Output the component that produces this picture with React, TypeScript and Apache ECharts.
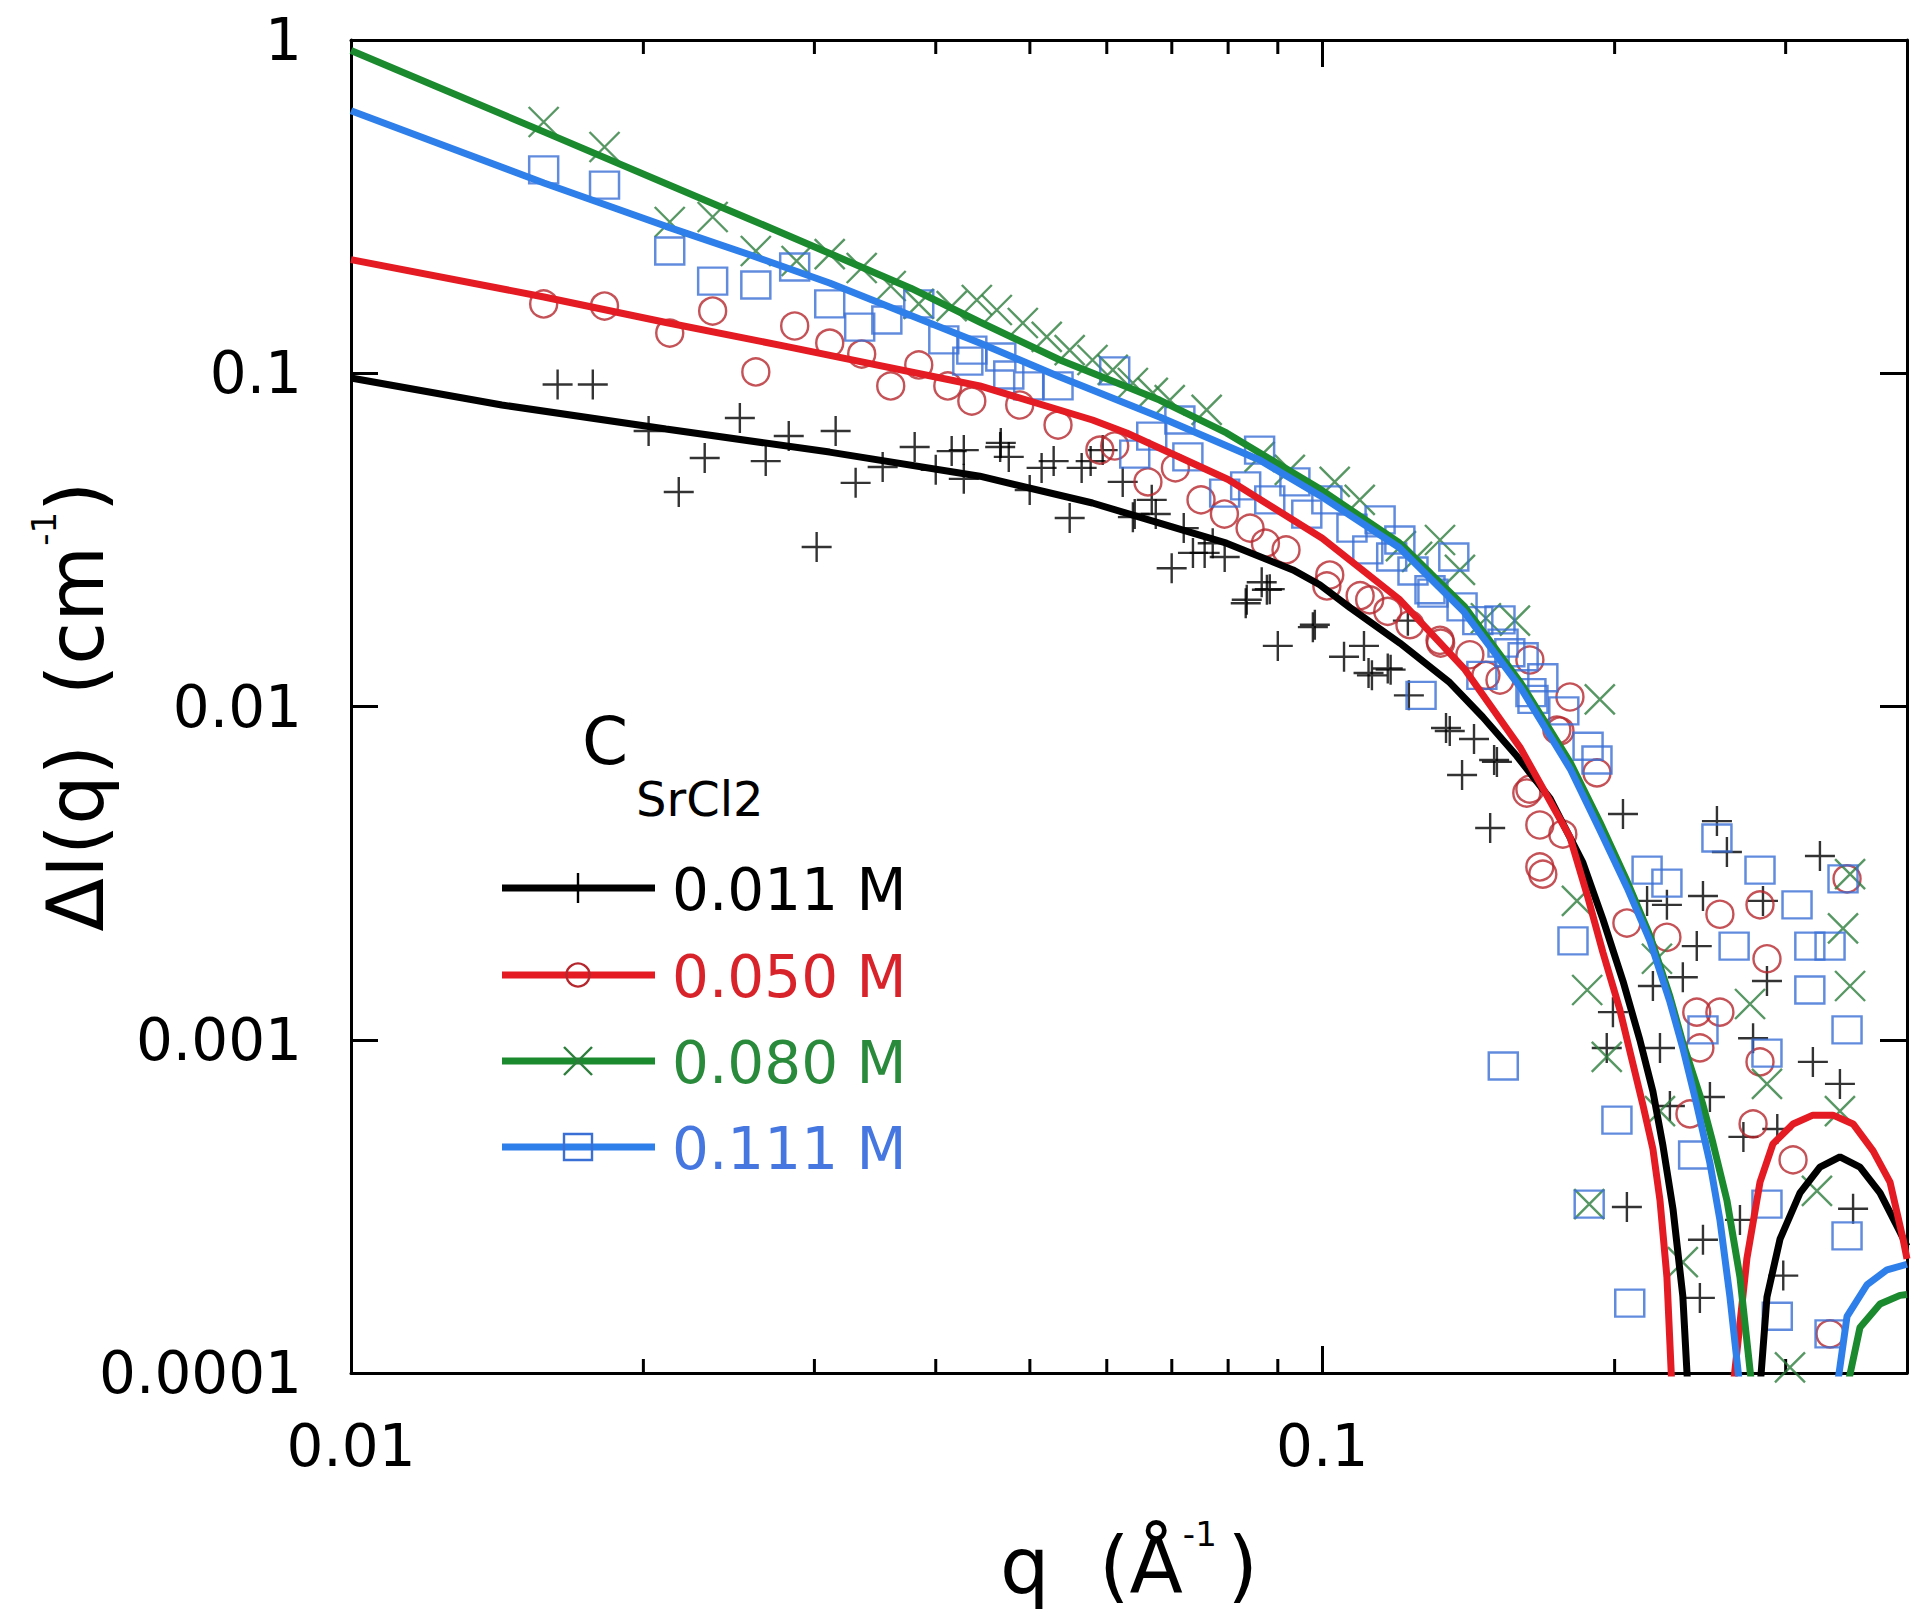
import React, { useEffect, useRef } from "react";
import * as echarts from "echarts";

const FONT = "DejaVu Sans";

// axis ranges and tick values
const xRange = [0.01, 0.4];
const yRange = [0.0001, 1];
const xLabelValues = [0.01, 0.1];
const xLabelTexts = ["0.01", "0.1"];
const xMinorTicks = [0.02, 0.03, 0.04, 0.05, 0.06, 0.07, 0.08, 0.09, 0.2, 0.3];
const yLabelValues = [0.0001, 0.001, 0.01, 0.1, 1];
const yLabelTexts = ["0.0001", "0.001", "0.01", "0.1", "1"];

// series
const seriesNames = ["0.011 M", "0.050 M", "0.080 M", "0.111 M"];
const lineColors = ["#000000", "#e41b23", "#1b8a2f", "#2f7fea"];
const markerColors = ["#000000", "#b5272d", "#2d7d3c", "#3a6fd6"];
const textColors = ["#000000", "#d9232b", "#2a8a3b", "#4677e0"];

// fitted curves [q, ΔI]
const fit011 = [
  [0.01, 0.0968], [0.0143, 0.0803], [0.0211, 0.068], [0.0311, 0.058], [0.0444, 0.0491],
  [0.058, 0.0408], [0.068, 0.0355], [0.0797, 0.0309], [0.0933, 0.0257], [0.0994, 0.0232],
  [0.1068, 0.0198], [0.1202, 0.0155], [0.1353, 0.0118], [0.1463, 0.0093], [0.1586, 0.0071],
  [0.1716, 0.0053], [0.1855, 0.0034], [0.1945, 0.0023], [0.204, 0.0015], [0.2123, 0.001],
  [0.219, 0.0007], [0.2243, 0.00048], [0.2297, 0.00031], [0.2351, 0.00017], [0.2379, 0.00009],
  [0.259, 0.0000001], [0.2823, 0.00009], [0.287, 0.000169], [0.296, 0.000252], [0.3104, 0.000347],
  [0.3254, 0.000415], [0.3412, 0.000445], [0.3578, 0.000415], [0.3752, 0.000347], [0.3934, 0.000265],
  [0.4, 0.00024],
];
const fit050 = [
  [0.01, 0.2193], [0.0158, 0.1694], [0.0211, 0.1420], [0.0282, 0.1200], [0.0444, 0.0916],
  [0.058, 0.0724], [0.0629, 0.0662], [0.08, 0.048], [0.1, 0.032], [0.12, 0.021],
  [0.14, 0.013], [0.16, 0.0075], [0.1799, 0.00406], [0.1874, 0.00272], [0.1945, 0.00183],
  [0.2025, 0.00123], [0.2088, 0.00085], [0.2138, 0.00064], [0.219, 0.00047], [0.2227, 0.00033],
  [0.2264, 0.000194], [0.2291, 0.00009], [0.2465, 0.0000001], [0.2648, 0.00009], [0.2737, 0.000221],
  [0.2823, 0.000374], [0.2911, 0.000487], [0.3053, 0.000559], [0.32, 0.000594], [0.3356, 0.000594],
  [0.352, 0.000559], [0.3691, 0.000464], [0.3842, 0.000374], [0.3963, 0.000252], [0.4, 0.00022],
];
const fit080 = [
  [0.01, 0.93], [0.0158, 0.53], [0.0256, 0.292], [0.0377, 0.1800], [0.0444, 0.1425],
  [0.0537, 0.1096], [0.068, 0.0831], [0.0797, 0.0662], [0.0994, 0.045], [0.12, 0.031],
  [0.14, 0.02], [0.16, 0.0118], [0.18, 0.0068], [0.1931, 0.0045], [0.2059, 0.003],
  [0.2175, 0.00205], [0.228, 0.00135], [0.2351, 0.00098], [0.2465, 0.00064], [0.2525, 0.00049],
  [0.261, 0.00033], [0.2692, 0.000194], [0.277, 0.00009], [0.312, 0.0000001], [0.347, 0.00009],
  [0.3578, 0.000137], [0.3752, 0.000161], [0.3934, 0.000171], [0.4, 0.000172],
];
const fit111 = [
  [0.01, 0.613], [0.0158, 0.3724], [0.0211, 0.276], [0.0256, 0.2279], [0.0311, 0.1866],
  [0.0444, 0.1232], [0.0537, 0.0974], [0.068, 0.0739], [0.0862, 0.0549], [0.0994, 0.043],
  [0.12, 0.03], [0.14, 0.0192], [0.16, 0.0114], [0.18, 0.0065], [0.1931, 0.00426],
  [0.2059, 0.00287], [0.2175, 0.00198], [0.228, 0.0013], [0.2351, 0.000945], [0.243, 0.000637],
  [0.2507, 0.000427], [0.2567, 0.000288], [0.2629, 0.000169], [0.2692, 0.00009], [0.302, 0.0000001],
  [0.3388, 0.00009], [0.347, 0.000148], [0.3638, 0.000184], [0.3815, 0.000204], [0.4, 0.000212],
];

// measured points [q, ΔI]
const pts011 = [
  [0.01632, 0.0925], [0.01774, 0.0925], [0.02025, 0.0671], [0.02175, 0.044], [0.02313, 0.0557],
  [0.02514, 0.0734], [0.02673, 0.0545], [0.02823, 0.0648], [0.03016, 0.0301], [0.03155, 0.0671],
  [0.03308, 0.0469], [0.03527, 0.0523], [0.03805, 0.0601], [0.04, 0.0513], [0.04154, 0.0584],
  [0.04275, 0.0482], [0.04275, 0.0588], [0.0466, 0.0601], [0.04667, 0.0618], [0.04756, 0.0561],
  [0.04998, 0.0446], [0.05141, 0.052], [0.0529, 0.0545], [0.05495, 0.0368], [0.05653, 0.052],
  [0.05775, 0.0545], [0.05942, 0.0588], [0.06231, 0.0472], [0.06383, 0.037], [0.06411, 0.0378],
  [0.06675, 0.0417], [0.06739, 0.0378], [0.06998, 0.026], [0.07201, 0.0343], [0.0736, 0.0289],
  [0.07567, 0.0289], [0.07713, 0.0309], [0.07935, 0.0281], [0.08341, 0.0204], [0.08361, 0.0209],
  [0.08663, 0.0236], [0.0877, 0.0224], [0.0883, 0.0225], [0.09, 0.0152], [0.0978, 0.0173],
  [0.09826, 0.0176], [0.1053, 0.0141], [0.1104, 0.0152], [0.1116, 0.0126], [0.1125, 0.0124],
  [0.1168, 0.013], [0.1176, 0.0129], [0.1225, 0.0181], [0.1228, 0.0108], [0.1341, 0.00862],
  [0.1353, 0.00844], [0.1393, 0.00623], [0.1433, 0.00799], [0.1489, 0.00432], [0.1503, 0.00691],
  [0.1513, 0.00682], [0.1992, 0.00121], [0.204, 0.00476], [0.2549, 0.00453], [0.261, 0.00366],
  [0.3254, 0.00356], [0.2466, 0.0027], [0.216, 0.00261], [0.2264, 0.00254], [0.2843, 0.00261],
  [0.243, 0.00191], [0.287, 0.0015], [0.219, 0.00145], [0.2351, 0.00154], [0.1963, 0.000945],
  [0.2227, 0.000945], [0.2777, 0.00101], [0.32, 0.000858], [0.3412, 0.000737], [0.228, 0.000633],
  [0.2507, 0.000673], [0.2714, 0.000511], [0.2941, 0.00054], [0.2059, 0.000315], [0.352, 0.000311],
  [0.2692, 0.000288], [0.2466, 0.000251], [0.2983, 0.000196], [0.2448, 0.000168],
];
const pts050 = [
  [0.01579, 0.1614], [0.01824, 0.1591], [0.02129, 0.132], [0.02357, 0.1537], [0.02611, 0.1009],
  [0.02863, 0.1386], [0.03111, 0.1232], [0.03356, 0.1142], [0.03595, 0.0916], [0.03842, 0.1059],
  [0.04116, 0.0916], [0.04357, 0.0825], [0.04881, 0.0803], [0.05345, 0.0699], [0.05902, 0.0588],
  [0.06114, 0.0605], [0.06615, 0.0472], [0.0706, 0.052], [0.07502, 0.0417], [0.0793, 0.0378],
  [0.08427, 0.0343], [0.0874, 0.0309], [0.09177, 0.0295], [0.1011, 0.023], [0.1018, 0.0248],
  [0.1094, 0.0215], [0.1119, 0.0209], [0.1168, 0.0193], [0.1231, 0.0176], [0.1322, 0.0158],
  [0.1324, 0.0155], [0.1419, 0.0143], [0.1474, 0.0124], [0.1524, 0.012], [0.1636, 0.01379],
  [0.1799, 0.01068], [0.1744, 0.0085], [0.1918, 0.00632], [0.1675, 0.0033], [0.1624, 0.0055],
  [0.1757, 0.00844], [0.1636, 0.00565], [0.1675, 0.00441], [0.1687, 0.00314], [0.1769, 0.00414],
  [0.2059, 0.00224], [0.2264, 0.00203], [0.2567, 0.00238], [0.2823, 0.00254], [0.287, 0.00175],
  [0.243, 0.00121], [0.2567, 0.00121], [0.2448, 0.000945], [0.2823, 0.000858], [0.2777, 0.000559],
  [0.3053, 0.000436], [0.347, 0.00304], [0.3333, 0.000131], [0.2391, 0.000599],
];
const pts080 = [
  [0.01579, 0.5675], [0.01824, 0.4775], [0.02129, 0.2844], [0.02357, 0.2944], [0.02611, 0.2327],
  [0.02876, 0.2172], [0.03111, 0.2279], [0.03356, 0.2069], [0.03595, 0.1827], [0.03842, 0.1614],
  [0.04154, 0.1591], [0.04409, 0.1659], [0.04623, 0.1548], [0.04917, 0.1415], [0.05204, 0.1285],
  [0.05495, 0.1174], [0.058, 0.1096], [0.06086, 0.1023], [0.06383, 0.0935], [0.06692, 0.0873],
  [0.06966, 0.0831], [0.07603, 0.0776], [0.0862, 0.0561], [0.0926, 0.0513], [0.103, 0.0472],
  [0.1093, 0.0417], [0.1205, 0.0303], [0.1252, 0.0281], [0.1322, 0.0316], [0.1386, 0.0257],
  [0.1474, 0.0184], [0.1579, 0.0181], [0.1931, 0.0105], [0.1829, 0.00261], [0.1874, 0.00141],
  [0.1963, 0.000888], [0.2227, 0.000611], [0.2351, 0.000215], [0.2757, 0.00128], [0.287, 0.000737],
  [0.3031, 0.000104], [0.3495, 0.00145], [0.3495, 0.00314], [0.3412, 0.000611], [0.3231, 0.000352],
  [0.3437, 0.00216], [0.1883, 0.000321], [0.2211, 0.00175],
];
const pts111 = [
  [0.01579, 0.4074], [0.01824, 0.3671], [0.02129, 0.2327], [0.02357, 0.1891], [0.02611, 0.184],
  [0.02863, 0.2084], [0.03111, 0.1614], [0.0334, 0.1376], [0.03562, 0.1445], [0.03842, 0.1614],
  [0.04077, 0.1259], [0.04316, 0.1088], [0.04357, 0.1174], [0.04667, 0.1119], [0.04756, 0.0988],
  [0.04986, 0.0916], [0.05345, 0.0916], [0.06114, 0.1016], [0.06411, 0.0572], [0.06675, 0.0648],
  [0.07135, 0.0724], [0.07272, 0.0561], [0.07935, 0.0437], [0.0834, 0.0459], [0.0862, 0.0588],
  [0.0883, 0.0417], [0.09372, 0.0472], [0.0964, 0.0378], [0.1011, 0.0417], [0.1073, 0.0343],
  [0.1114, 0.0295], [0.1147, 0.0363], [0.1179, 0.0281], [0.1202, 0.0316], [0.124, 0.0255],
  [0.1291, 0.0224], [0.13, 0.0219], [0.1366, 0.0281], [0.1393, 0.0199], [0.1446, 0.0181],
  [0.1264, 0.0108], [0.146, 0.0124], [0.1524, 0.0182], [0.1535, 0.0155], [0.156, 0.0145],
  [0.161, 0.0141], [0.164, 0.011], [0.1648, 0.0105], [0.1687, 0.0122], [0.1773, 0.0097],
  [0.1878, 0.0076], [0.1918, 0.00691], [0.1812, 0.00198], [0.216, 0.00323], [0.2264, 0.00295],
  [0.2549, 0.00403], [0.2823, 0.00323], [0.3082, 0.00254], [0.2655, 0.00191], [0.3177, 0.00191],
  [0.3333, 0.00191], [0.3437, 0.00304], [0.3177, 0.00141], [0.347, 0.00107], [0.1536, 0.000834],
  [0.2466, 0.00107], [0.287, 0.000912], [0.2011, 0.000574], [0.2412, 0.000451], [0.1883, 0.000321],
  [0.287, 0.000321], [0.347, 0.000258], [0.2073, 0.000162], [0.2941, 0.000148], [0.3333, 0.000131],
];

const fits = [fit011, fit050, fit080, fit111];
const points = [pts011, pts050, pts080, pts111];

const plusPath = "path://M0,50L100,50M50,0L50,100";
const crossPath = "path://M0,0L100,100M100,0L0,100";
const symbols = [plusPath, "circle", crossPath, "rect"];
const symbolSizes: any[] = [30, 27, 30, [29, 27]];

const matchLabel = (v: number, vals: number[], texts: string[]) => {
  for (let i = 0; i < vals.length; i++) {
    if (Math.abs(Math.log10(v) - Math.log10(vals[i])) < 1e-6) return texts[i];
  }
  return "";
};

const axisCommon = {
  type: "log",
  logBase: 10,
  axisLine: { show: true, onZero: false, lineStyle: { color: "#000", width: 3 } },
  axisTick: { show: true, inside: true, length: 27, lineStyle: { color: "#000", width: 3 } },
  splitLine: { show: false },
  minorTick: { show: false },
  minorSplitLine: { show: false },
};

const titleRich = {
  b: { fontSize: 78, fontFamily: FONT, color: "#000", verticalAlign: "bottom", lineHeight: 88 },
  s: { fontSize: 34, fontFamily: FONT, color: "#000", verticalAlign: "top", lineHeight: 40 },
};

export default function App() {
  const ref = useRef<HTMLDivElement>(null);
  useEffect(() => {
    if (!ref.current) return;
    const chart = echarts.init(ref.current, undefined, { renderer: "svg" });

    const series: any[] = [];
    for (let i = 0; i < 4; i++) {
      series.push({
        type: "scatter",
        name: seriesNames[i],
        data: points[i],
        symbol: symbols[i],
        symbolSize: symbolSizes[i],
        itemStyle: { color: "rgba(0,0,0,0)", borderColor: markerColors[i], borderWidth: 2.4 },
        silent: true,
      });
      series.push({
        type: "line",
        name: seriesNames[i],
        data: fits[i],
        symbol: "none",
        showSymbol: false,
        clip: true,
        lineStyle: { color: lineColors[i], width: 7 },
        silent: true,
      });
    }
    // minor ticks on top and bottom x axes
    series.push({
      type: "custom",
      silent: true,
      data: xMinorTicks.map((v) => [v, yRange[0]]),
      renderItem: (params: any, api: any) => {
        const q = api.value(0);
        const b = api.coord([q, yRange[0]]);
        const t = api.coord([q, yRange[1]]);
        return {
          type: "group",
          children: [
            { type: "line", shape: { x1: b[0], y1: b[1], x2: b[0], y2: b[1] - 14 }, style: { stroke: "#000", lineWidth: 3 } },
            { type: "line", shape: { x1: t[0], y1: t[1], x2: t[0], y2: t[1] + 14 }, style: { stroke: "#000", lineWidth: 3 } },
          ],
        };
      },
    });

    const rowsY = [888, 975, 1061, 1147];
    const mx = 578;
    const graphics: any[] = [
      { type: "text", x: 582, y: 741, style: { text: "C", fontSize: 66, fontFamily: FONT, fill: "#000", align: "left", verticalAlign: "middle" } },
      { type: "text", x: 636, y: 799, style: { text: "SrCl2", fontSize: 48, fontFamily: FONT, fill: "#000", align: "left", verticalAlign: "middle" } },
    ];
    rowsY.forEach((y, i) => {
      graphics.push({ type: "line", shape: { x1: 502, y1: y, x2: 655, y2: y }, style: { stroke: lineColors[i], lineWidth: 7 } });
      const st = { stroke: markerColors[i], lineWidth: 2.4, fill: "none" };
      if (i === 0) {
        graphics.push({ type: "line", shape: { x1: mx, y1: y - 15, x2: mx, y2: y + 15 }, style: st });
        graphics.push({ type: "line", shape: { x1: mx - 14, y1: y, x2: mx + 14, y2: y }, style: st });
      } else if (i === 1) {
        graphics.push({ type: "circle", shape: { cx: mx, cy: y, r: 11.5 }, style: st });
      } else if (i === 2) {
        graphics.push({ type: "line", shape: { x1: mx - 14, y1: y - 14, x2: mx + 14, y2: y + 14 }, style: st });
        graphics.push({ type: "line", shape: { x1: mx + 14, y1: y - 14, x2: mx - 14, y2: y + 14 }, style: st });
      } else {
        graphics.push({ type: "rect", shape: { x: mx - 14, y: y - 13, width: 28, height: 26 }, style: st });
      }
      graphics.push({
        type: "text",
        x: 672,
        y: y + 2,
        style: { text: seriesNames[i], fontSize: 58, fontFamily: FONT, fill: textColors[i], align: "left", verticalAlign: "middle" },
      });
    });

    const option: any = {
      animation: false,
      backgroundColor: "#fff",
      grid: { left: 351, top: 40, width: 1556, height: 1333, containLabel: false },
      xAxis: [
        {
          ...axisCommon,
          min: xRange[0],
          max: xRange[1],
          position: "bottom",
          axisLabel: {
            show: true,
            margin: 44,
            fontSize: 58,
            fontFamily: FONT,
            color: "#000",
            formatter: (v: number) => matchLabel(v, xLabelValues, xLabelTexts),
          },
          name: "{b|q  (Å}{s|-1 }{b|)}",
          nameLocation: "middle",
          nameGap: 144,
          nameMoveOverlap: false,
          nameTextStyle: { fontFamily: FONT, color: "#000", rich: titleRich },
        },
        {
          ...axisCommon,
          min: xRange[0],
          max: xRange[1],
          position: "top",
          axisLabel: { show: false },
        },
      ],
      yAxis: [
        {
          ...axisCommon,
          min: yRange[0],
          max: yRange[1],
          position: "left",
          axisLabel: {
            show: true,
            margin: 49,
            fontSize: 58,
            fontFamily: FONT,
            color: "#000",
            formatter: (v: number) => matchLabel(v, yLabelValues, yLabelTexts),
          },
          name: "{b|ΔI(q)  (cm}{s|-1}{b|)}",
          nameLocation: "middle",
          nameGap: 236,
          nameRotate: 90,
          nameMoveOverlap: false,
          nameTextStyle: { fontFamily: FONT, color: "#000", rich: titleRich },
        },
        {
          ...axisCommon,
          min: yRange[0],
          max: yRange[1],
          position: "right",
          axisLabel: { show: false },
        },
      ],
      series,
      graphic: graphics,
    };
    chart.setOption(option);
    return () => chart.dispose();
  }, []);
  return (
    <div
      ref={ref}
      style={{ position: "absolute", left: 0, top: 0, width: 1920, height: 1613, background: "#fff" }}
    />
  );
}
